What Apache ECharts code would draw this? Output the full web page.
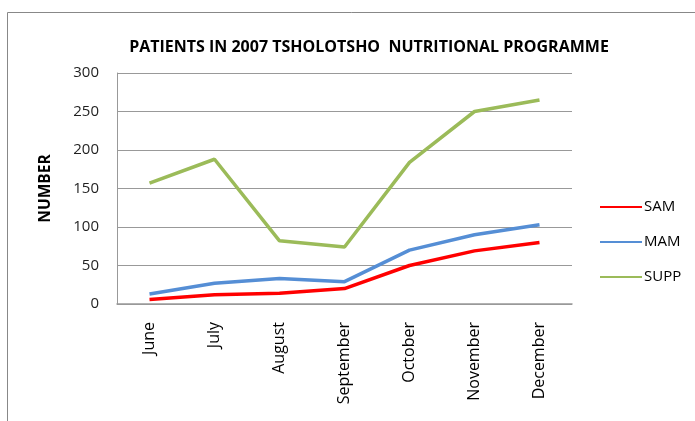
<!DOCTYPE html>
<html>
<head>
<meta charset="utf-8">
<script src="https://cdn.jsdelivr.net/npm/echarts@6/dist/echarts.min.js"></script>
<style>html,body{margin:0;padding:0;background:#fff}#c{width:695px;height:421px}</style>
</head>
<body>
<div id="c"></div>
<script>
var months = ['June','July','August','September','October','November','December'];
var sam = [6, 12, 14, 20, 50, 69, 80];
var mam = [13, 27, 33, 29, 70, 90, 103];
var supp = [157, 188, 82, 74, 184, 250, 265];
var yTicks = [0, 50, 100, 150, 200, 250, 300];

var FONT = 'Open Sans, Lato, sans-serif';
var chart = echarts.init(document.getElementById('c'), null, {renderer: 'canvas'});
chart.setOption({
  animation: false,
  backgroundColor: '#fff',
  title: {
    text: 'PATIENTS IN 2007 TSHOLOTSHO  NUTRITIONAL PROGRAMME',
    left: 364, top: 34, textAlign: 'center',
    textStyle: {fontFamily: FONT, fontSize: 16, fontWeight: 'bold', color: '#000'}
  },
  graphic: [{
    type: 'rect', shape: {x: 7.5, y: 12.5, width: 700, height: 420},
    style: {fill: 'none', stroke: '#888', lineWidth: 1}, silent: true
  }],
  legend: {
    orient: 'vertical', left: 595, top: 192, itemGap: 15,
    itemWidth: 42, itemHeight: 20, icon: 'path://M0,9 L42,9 L42,11 L0,11 Z',
    textStyle: {fontFamily: FONT, fontSize: 15, color: '#000', padding: [0,0,0,-3], lineHeight: 20},
    data: ['SAM', 'MAM', 'SUPP']
  },
  grid: {left: 117, top: 73, width: 455, height: 231, containLabel: false},
  xAxis: {
    type: 'category', data: months, boundaryGap: true,
    axisLine: {lineStyle: {color: '#999', width: 1.5}},
    axisTick: {show: false},
    axisLabel: {rotate: 90, margin: 18, fontFamily: FONT, fontSize: 16, color: '#000', interval: 0}
  },
  yAxis: {
    type: 'value', min: 0, max: 300, interval: 50,
    name: 'NUMBER', nameLocation: 'middle', nameGap: 63, nameRotate: 90,
    nameTextStyle: {fontFamily: FONT, fontSize: 15.5, fontWeight: 'bold', color: '#000'},
    axisLine: {show: true, lineStyle: {color: '#999', width: 1}},
    axisTick: {show: false},
    axisLabel: {margin: 18, fontFamily: FONT, fontSize: 15, color: '#1f1f1f',
      formatter: function (v) { return yTicks.indexOf(v) >= 0 ? String(v) : ''; }},
    splitLine: {lineStyle: {color: '#999', width: 1.2}}
  },
  series: [
    {name: 'SAM', type: 'line', data: sam, symbol: 'none', itemStyle: {color: '#ff0000'}, lineStyle: {width: 3.5, color: '#ff0000'}},
    {name: 'MAM', type: 'line', data: mam, symbol: 'none', itemStyle: {color: '#558ed5'}, lineStyle: {width: 3.5, color: '#558ed5'}},
    {name: 'SUPP', type: 'line', data: supp, symbol: 'none', itemStyle: {color: '#9bbb59'}, lineStyle: {width: 3.5, color: '#9bbb59'}}
  ]
});
</script>
</body>
</html>
